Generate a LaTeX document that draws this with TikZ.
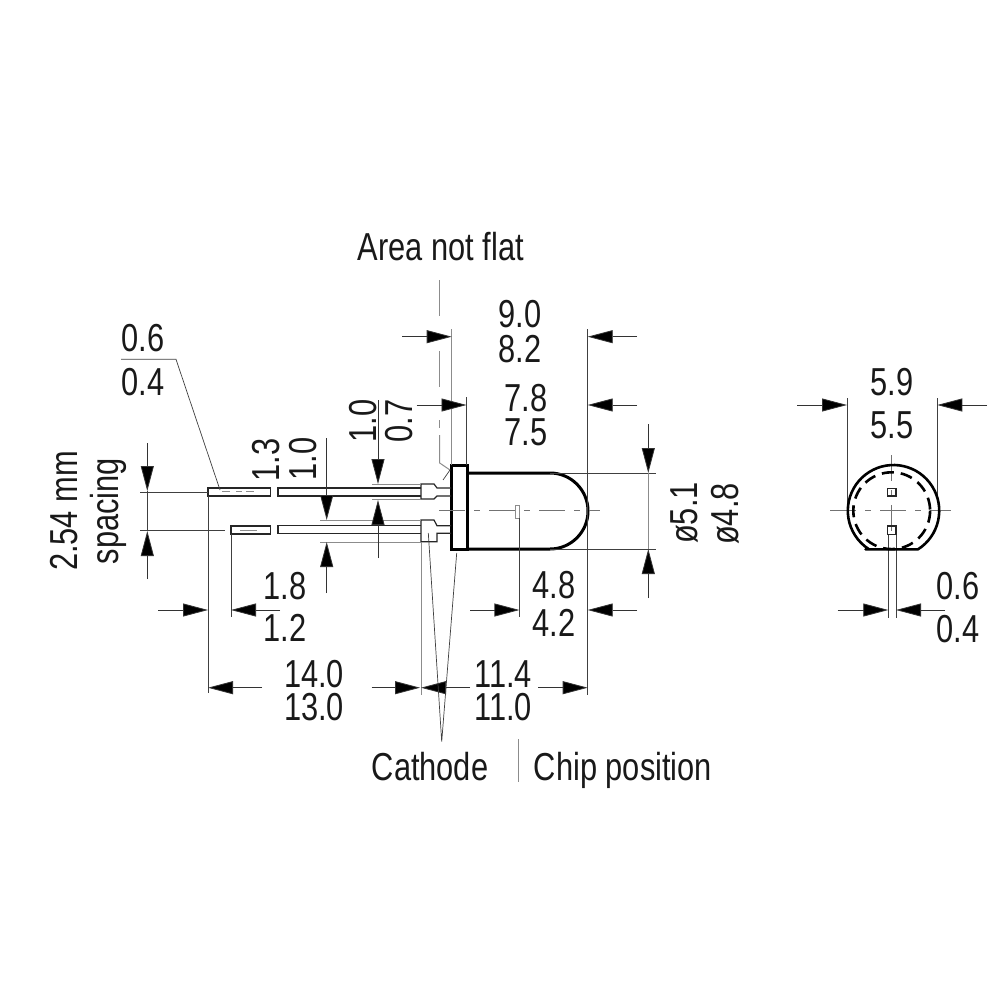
\documentclass[tikz,border=0pt]{standalone}
\usepackage{fontspec}
\setmainfont[FakeStretch=0.79]{Liberation Sans}
\usetikzlibrary{arrows.meta}
\tikzset{
  thin line/.style={line width=0.7pt,draw=black!75},
  grey line/.style={line width=1pt,draw=black!45},
  thick line/.style={line width=3pt,draw=black,line join=miter},
  mid line/.style={line width=1.2pt,draw=black!85},
  dim/.style={line width=0.8pt,draw=black!80,-{Triangle[length=25pt,width=13pt,fill=black]}},
  lbl/.style={font=\fontsize{39}{39}\selectfont,text=black!90,inner sep=0pt},
  center dash/.style={line width=0.9pt,draw=black!55,dash pattern=on 26pt off 9pt on 6pt off 9pt}
}
\begin{document}
\begin{tikzpicture}[x=1pt,y=-1pt]
\useasboundingbox (0,0) rectangle (1000,1000);
\fill[white] (0,0) rectangle (1000,1000);
% ---------- LED body
\draw[thick line] (451.5,465.5) rectangle (467.5,549.5);
\draw[thick line] (467.5,473) -- (550,473) .. controls (571,473) and (588,490) .. (588,511) .. controls (588,532) and (571,549) .. (550,549) -- (467.5,549);
% ---------- chip
\draw[grey line] (515,505) rectangle (519,518);
% ---------- leads near flange
\draw[mid line] (451,488) -- (437,488) -- (434,484) -- (421,484) -- (421,499) -- (434,499) -- (437,496) -- (451,496);
\draw[mid line] (421,488) -- (278,488) -- (278,496) -- (421,496);
\draw[mid line] (451,525.7) -- (437,525.7) -- (434,520) -- (421,520) -- (421,541.7) -- (437,541.7) -- (437,533.3) -- (451,533.3);
\draw[mid line] (421,525.7) -- (278,525.7) -- (278,533.3) -- (421,533.3);
% ---------- lead ends
\draw[mid line] (208,488) rectangle (270.7,496);
\draw[mid line] (231,526) rectangle (270.7,534);
\draw[grey line,dash pattern=on 8pt off 6pt on 6pt off 4pt] (222,491.7) -- (258,491.7);
\draw[grey line,dash pattern=on 14pt off 0pt] (240,530) -- (257,530);
% ---------- centre lines
\draw[center dash] (439,510.7) -- (600,510.7);
\draw[center dash] (830,510.7) -- (951,510.7);
\draw[center dash] (891.7,455) -- (891.7,534);
% ---------- extension lines
\draw[thin line] (140,492) -- (208,492);
\draw[thin line] (140,530) -- (225,530);
\draw[thin line] (208,496) -- (208,693);
\draw[thin line] (231,534) -- (231,617);
\draw[grey line] (451.7,329) -- (451.7,465);
\draw[thin line] (466.5,397) -- (466.5,465);
\draw[thin line] (587.7,329) -- (587.7,695);
\draw[thin line] (519.4,518) -- (519.4,617);
\draw[thin line] (550,473) -- (656,473);
\draw[thin line] (550,549) -- (656,549);
\draw[grey line] (372,484) -- (421,484);
\draw[grey line] (372,499) -- (421,499);
\draw[grey line] (320,520) -- (421,520);
\draw[grey line] (320,542) -- (421,542);
\draw[grey line] (421,542) -- (421,695);
\draw[thin line] (847,398) -- (847,510);
\draw[thin line] (937.3,398) -- (937.3,498);
\draw[thin line] (888.3,534) -- (888.3,618);
\draw[thin line] (896,534) -- (896,618);
% ---------- Area not flat leader
\draw[grey line,dash pattern=on 36pt off 35pt] (439.7,280) -- (439.7,388);
\draw[grey line] (439.7,420) -- (439.7,428);
\draw[grey line] (439.7,435) -- (439.7,463) -- (450,470);
\draw[thin line] (443,480) -- (450,470);
% ---------- dimensions
\draw[dim] (402,336.7) -- (451.7,336.7);
\draw[dim] (637,336.7) -- (587.7,336.7);
\draw[dim] (416.7,405) -- (466.5,405);
\draw[dim] (637,405) -- (587.7,405);
\draw[dim] (378,400) -- (378,484);
\draw[dim] (378,558) -- (378,500);
\draw[dim] (326.7,438) -- (326.7,520);
\draw[dim] (326.7,593) -- (326.7,542);
\draw[dim] (147.3,443) -- (147.3,491);
\draw[dim] (147.3,579) -- (147.3,531);
\draw[thin line] (147.3,491) -- (147.3,531);
\draw[dim] (158,610) -- (208,610);
\draw[dim] (280,610) -- (231,610);
\draw[dim] (470,610) -- (519.4,610);
\draw[dim] (637,610) -- (587.7,610);
\draw[dim] (262,687.7) -- (208,687.7);
\draw[dim] (371.7,687.7) -- (420,687.7);
\draw[dim] (470,687.7) -- (421,687.7);
\draw[dim] (538,687.7) -- (587.7,687.7);
\draw[dim] (648.3,424) -- (648.3,473);
\draw[dim] (648.3,598) -- (648.3,549);
\draw[grey line] (648.3,473) -- (648.3,549);
\draw[dim] (797,405) -- (847,405);
\draw[dim] (987,405) -- (937.3,405);
\draw[dim] (837.7,610) -- (888.3,610);
\draw[dim] (945,610) -- (896,610);
% ---------- leaders
\draw[thin line] (121,359.3) -- (176,359.3) -- (220,490);
\draw[thin line] (428.3,533) -- (441.7,741.7) -- (456.7,553);
\draw[grey line] (518.3,739) -- (518.3,781.7);
% ---------- end view
\draw[line width=2.6pt,line join=round] (865.5,549.3) -- (918,549.3) arc[start angle=57.6,end angle=-237.6,radius=45.7] -- cycle;
\draw[line width=2.6pt,dash pattern=on 12pt off 7pt] (891.7,510.7) circle[radius=38.4];
\draw[mid line] (887.7,488.3) rectangle (896,496);
\draw[mid line] (887.7,526) rectangle (896,534.3);
% ---------- texts
\node[lbl] (tarea) at (441,247) {Area not flat};
\node[lbl] (t90) at (520,314) {9.0};
\node[lbl] (t82) at (520,349) {8.2};
\node[lbl] (t78) at (526,398) {7.8};
\node[lbl] (t75) at (526,432) {7.5};
\node[lbl] (t48a) at (554,585) {4.8};
\node[lbl] (t42) at (554,623) {4.2};
\node[lbl] (t114) at (503,674) {11.4};
\node[lbl] (t110) at (503,707) {11.0};
\node[lbl] (t140) at (314,674) {14.0};
\node[lbl] (t130) at (314,707) {13.0};
\node[lbl] (t18) at (285,586) {1.8};
\node[lbl] (t12) at (285,628) {1.2};
\node[lbl] (t06a) at (143,338) {0.6};
\node[lbl] (t04a) at (143,382) {0.4};
\node[lbl] (t59) at (892,382) {5.9};
\node[lbl] (t55) at (892,425) {5.5};
\node[lbl] (t06b) at (958,586) {0.6};
\node[lbl] (t04b) at (958,629) {0.4};
\node[lbl,anchor=base] (tcath) at (430,780) {Cathode};
\node[lbl,anchor=base] (tchip) at (623,780) {Chip position};
\node[lbl,rotate=90] (t13) at (266,460) {1.3};
\node[lbl,rotate=90] (t10a) at (303,459) {1.0};
\node[lbl,rotate=90] (t10b) at (363,421) {1.0};
\node[lbl,rotate=90] (t07) at (399,421) {0.7};
\node[lbl,rotate=90] (t254) at (64,511) {2.54 mm};
\node[lbl,rotate=90] (tsp) at (108,511) {spacing};
\node[lbl,rotate=90] (t51) at (684,513) {ø5.1};
\node[lbl,rotate=90] (t48b) at (725,514) {ø4.8};
\end{tikzpicture}
\end{document}
